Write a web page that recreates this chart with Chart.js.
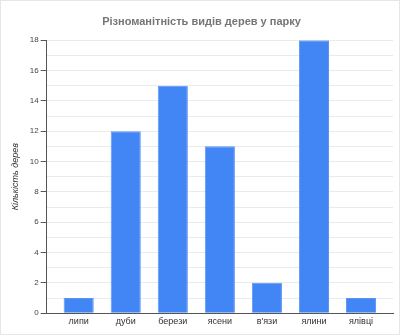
<!DOCTYPE html>
<html>
<head>
<meta charset="utf-8">
<script src="https://cdn.jsdelivr.net/npm/chart.js@4"></script>
<style>
    html, body { margin: 0; padding: 0; background: #fff; }
    #wrap { position: relative; width: 398px; height: 333px; border: 1px solid #e6e6e6; }
</style>
</head>
<body>
<div id="wrap"><canvas id="treeChart"></canvas></div>
<script>
// Chart data
const categories = ['липи', 'дуби', 'берези', 'ясени', 'в\'язи', 'ялини', 'ялівці'];
const treeCounts = [1, 12, 15, 11, 2, 18, 1];
const chartTitle = 'Різноманітність видів дерев у парку';
const yAxisTitle = 'Кількість дерев';

const ctx = document.getElementById('treeChart');

// position bars on a numeric axis so the side gaps match the original
const points = treeCounts.map((v, i) => ({ x: i, y: v }));

new Chart(ctx, {
    type: 'bar',
    data: {
        datasets: [{
            data: points,
            backgroundColor: '#4285f4',
            borderColor: '#5a95f5',
            borderWidth: 1,
            barPercentage: 0.64,
            categoryPercentage: 1
        }]
    },
    options: {
        responsive: true,
        maintainAspectRatio: false,
        animation: false,
        layout: {
            padding: { left: 9, right: 6, top: 4, bottom: 4 }
        },
        plugins: {
            legend: { display: false },
            tooltip: { enabled: false },
            title: {
                display: true,
                text: chartTitle,
                color: '#757575',
                font: { family: 'Liberation Sans', size: 11, weight: 'bold' },
                padding: { top: 10, bottom: 12 }
            }
        },
        scales: {
            y: {
                min: 0,
                max: 18,
                ticks: {
                    stepSize: 1,
                    autoSkip: false,
                    color: '#444',
                    font: { family: 'Liberation Sans', size: 8 },
                    padding: 2,
                    callback: function (value) {
                        return value % 2 === 0 ? value : '';
                    }
                },
                grid: {
                    color: '#ebebeb',
                    tickLength: 6,
                    tickColor: function (context) {
                        return context.tick && context.tick.value % 2 === 0 ? '#555' : 'rgba(0,0,0,0)';
                    }
                },
                border: { color: '#555', width: 1 },
                title: {
                    display: true,
                    text: yAxisTitle,
                    color: '#333',
                    font: { family: 'Liberation Sans', size: 9, style: 'italic' },
                    padding: { top: 0, bottom: 7 }
                }
            },
            x: {
                type: 'linear',
                min: -0.68,
                max: 6.68,
                offset: false,
                ticks: {
                    stepSize: 1,
                    autoSkip: false,
                    color: '#333',
                    font: { family: 'Liberation Sans', size: 9 },
                    padding: 3,
                    callback: function (value) {
                        return Number.isInteger(value) ? categories[value] : '';
                    }
                },
                afterBuildTicks: function (axis) {
                    axis.ticks = categories.map((c, i) => ({ value: i }));
                },
                grid: { display: false, drawTicks: false },
                border: { color: '#555', width: 1 }
            }
        }
    }
});
</script>
</body>
</html>
